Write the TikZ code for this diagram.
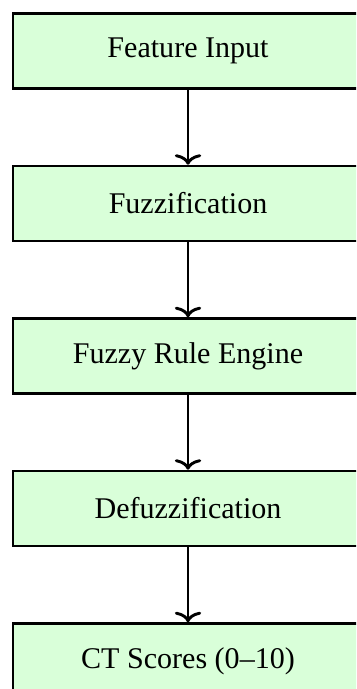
\documentclass[tikz,border=0pt]{standalone}
\usepackage{fontspec}
\setmainfont{Liberation Serif}
\usetikzlibrary{arrows.meta,positioning}
\definecolor{stagegreen}{HTML}{D9FFD9}
\tikzset{
  stagebox/.style={draw=black, fill=stagegreen, minimum width=4.666cm,
    minimum height=1cm, inner sep=3pt, line width=0.95pt,
    font=\fontsize{11.4}{13}\selectfont},
  flow/.style={-{To[length=4pt,width=10pt,line width=1.1pt]}, line width=0.95pt},
}

\begin{document}
\begin{tikzpicture}[node distance=1cm]
  \useasboundingbox (0,0) rectangle (4.747,-9.187);
  \clip (0,0) rectangle (4.747,-9.187);
  % pipeline stages
  \node[stagebox] (input) at (2.507,-0.68) {Feature Input};
  \node[stagebox, below=of input] (fuzz) {Fuzzification};
  \node[stagebox, below=of fuzz] (rules) {Fuzzy Rule Engine};
  \node[stagebox, below=of rules] (defuzz) {Defuzzification};
  \node[stagebox, below=of defuzz] (scores) {CT Scores (0--10)};
  % arrows
  \draw[flow] (input) -- (fuzz);
  \draw[flow] (fuzz) -- (rules);
  \draw[flow] (rules) -- (defuzz);
  \draw[flow] (defuzz) -- (scores);
\end{tikzpicture}
\end{document}
